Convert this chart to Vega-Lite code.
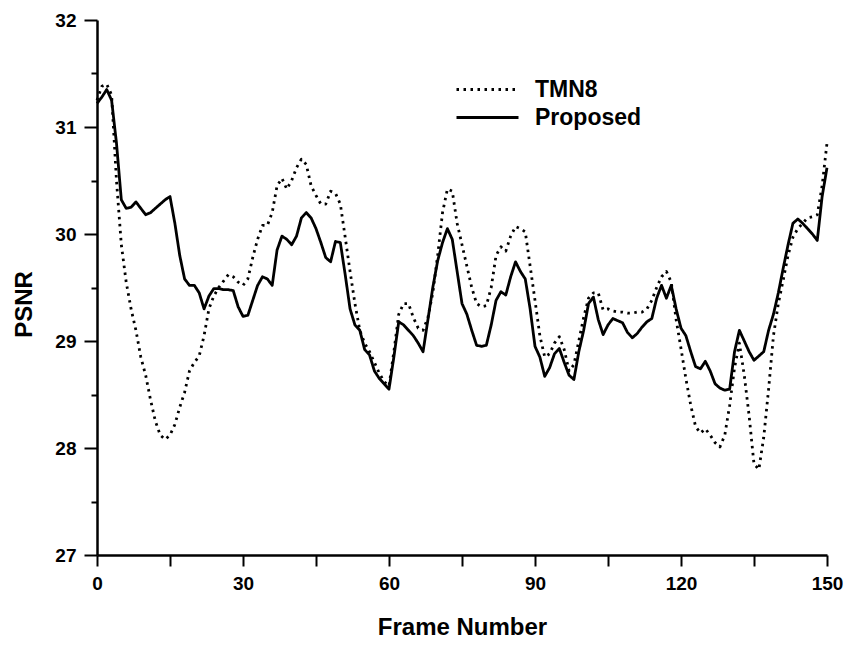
{
  "$schema": "https://vega.github.io/schema/vega-lite/v6.json",
  "width": 730,
  "height": 535,
  "autosize": {"type": "none"},
  "padding": {"left": 97, "top": 20, "right": 17, "bottom": 91},
  "background": "white",
  "config": {
    "font": "Liberation Sans",
    "view": {"stroke": null},
    "axis": {
      "domainColor": "black", "domainWidth": 2.5, "tickColor": "black", "tickWidth": 2,
      "labelColor": "black", "titleColor": "black", "labelFont": "Liberation Sans",
      "titleFont": "Liberation Sans", "labelFontSize": 19, "labelFontWeight": "bold",
      "titleFontSize": 24, "titleFontWeight": "bold", "grid": false
    }
  },
  "data": {"values": [
    {"f":0,"P":31.22,"T":31.25},{"f":1,"P":31.28,"T":31.38},{"f":2,"P":31.35,"T":31.4},{"f":3,"P":31.25,"T":31.3},
    {"f":4,"P":30.85,"T":30.5},{"f":5,"P":30.32,"T":29.9},{"f":6,"P":30.24,"T":29.55},{"f":7,"P":30.25,"T":29.3},
    {"f":8,"P":30.3,"T":29.1},{"f":9,"P":30.24,"T":28.85},{"f":10,"P":30.18,"T":28.68},{"f":11,"P":30.2,"T":28.45},
    {"f":12,"P":30.24,"T":28.25},{"f":13,"P":30.28,"T":28.12},{"f":14,"P":30.32,"T":28.08},{"f":15,"P":30.35,"T":28.12},
    {"f":16,"P":30.1,"T":28.22},{"f":17,"P":29.8,"T":28.38},{"f":18,"P":29.58,"T":28.52},{"f":19,"P":29.52,"T":28.72},
    {"f":20,"P":29.52,"T":28.8},{"f":21,"P":29.45,"T":28.86},{"f":22,"P":29.3,"T":29.05},{"f":23,"P":29.42,"T":29.3},
    {"f":24,"P":29.49,"T":29.42},{"f":25,"P":29.49,"T":29.5},{"f":26,"P":29.48,"T":29.56},{"f":27,"P":29.48,"T":29.62},
    {"f":28,"P":29.47,"T":29.6},{"f":29,"P":29.32,"T":29.55},{"f":30,"P":29.23,"T":29.52},{"f":31,"P":29.24,"T":29.58},
    {"f":32,"P":29.38,"T":29.78},{"f":33,"P":29.52,"T":29.95},{"f":34,"P":29.6,"T":30.08},{"f":35,"P":29.58,"T":30.08},
    {"f":36,"P":29.52,"T":30.2},{"f":37,"P":29.85,"T":30.45},{"f":38,"P":29.98,"T":30.52},{"f":39,"P":29.95,"T":30.42},
    {"f":40,"P":29.9,"T":30.5},{"f":41,"P":29.98,"T":30.62},{"f":42,"P":30.15,"T":30.7},{"f":43,"P":30.2,"T":30.65},
    {"f":44,"P":30.15,"T":30.45},{"f":45,"P":30.05,"T":30.36},{"f":46,"P":29.92,"T":30.28},{"f":47,"P":29.78,"T":30.28},
    {"f":48,"P":29.74,"T":30.4},{"f":49,"P":29.93,"T":30.38},{"f":50,"P":29.92,"T":30.28},{"f":51,"P":29.62,"T":29.97},
    {"f":52,"P":29.3,"T":29.65},{"f":53,"P":29.15,"T":29.35},{"f":54,"P":29.1,"T":29.1},{"f":55,"P":28.92,"T":28.98},
    {"f":56,"P":28.87,"T":28.9},{"f":57,"P":28.72,"T":28.8},{"f":58,"P":28.65,"T":28.7},{"f":59,"P":28.6,"T":28.62},
    {"f":60,"P":28.55,"T":28.58},{"f":61,"P":28.85,"T":28.9},{"f":62,"P":29.18,"T":29.25},{"f":63,"P":29.15,"T":29.35},
    {"f":64,"P":29.1,"T":29.35},{"f":65,"P":29.05,"T":29.22},{"f":66,"P":28.98,"T":29.12},{"f":67,"P":28.9,"T":29.1},
    {"f":68,"P":29.2,"T":29.22},{"f":69,"P":29.5,"T":29.45},{"f":70,"P":29.75,"T":29.8},{"f":71,"P":29.92,"T":30.2},
    {"f":72,"P":30.05,"T":30.42},{"f":73,"P":29.95,"T":30.4},{"f":74,"P":29.65,"T":30.1},{"f":75,"P":29.35,"T":29.9},
    {"f":76,"P":29.25,"T":29.7},{"f":77,"P":29.1,"T":29.5},{"f":78,"P":28.96,"T":29.35},{"f":79,"P":28.95,"T":29.32},
    {"f":80,"P":28.96,"T":29.33},{"f":81,"P":29.15,"T":29.5},{"f":82,"P":29.38,"T":29.8},{"f":83,"P":29.46,"T":29.88},
    {"f":84,"P":29.43,"T":29.84},{"f":85,"P":29.6,"T":29.98},{"f":86,"P":29.74,"T":30.07},{"f":87,"P":29.65,"T":30.05},
    {"f":88,"P":29.58,"T":30.02},{"f":89,"P":29.3,"T":29.7},{"f":90,"P":28.95,"T":29.38},{"f":91,"P":28.85,"T":29.05},
    {"f":92,"P":28.67,"T":28.85},{"f":93,"P":28.75,"T":28.88},{"f":94,"P":28.88,"T":28.98},{"f":95,"P":28.93,"T":29.04},
    {"f":96,"P":28.8,"T":28.92},{"f":97,"P":28.68,"T":28.72},{"f":98,"P":28.64,"T":28.78},{"f":99,"P":28.9,"T":29.0},
    {"f":100,"P":29.1,"T":29.22},{"f":101,"P":29.35,"T":29.4},{"f":102,"P":29.41,"T":29.45},{"f":103,"P":29.2,"T":29.45},
    {"f":104,"P":29.06,"T":29.29},{"f":105,"P":29.15,"T":29.3},{"f":106,"P":29.21,"T":29.28},{"f":107,"P":29.19,"T":29.27},
    {"f":108,"P":29.17,"T":29.27},{"f":109,"P":29.08,"T":29.26},{"f":110,"P":29.03,"T":29.26},{"f":111,"P":29.07,"T":29.27},
    {"f":112,"P":29.13,"T":29.27},{"f":113,"P":29.18,"T":29.3},{"f":114,"P":29.21,"T":29.38},{"f":115,"P":29.4,"T":29.5},
    {"f":116,"P":29.52,"T":29.6},{"f":117,"P":29.4,"T":29.65},{"f":118,"P":29.52,"T":29.55},{"f":119,"P":29.3,"T":29.2},
    {"f":120,"P":29.12,"T":28.93},{"f":121,"P":29.05,"T":28.65},{"f":122,"P":28.9,"T":28.4},{"f":123,"P":28.76,"T":28.2},
    {"f":124,"P":28.74,"T":28.14},{"f":125,"P":28.81,"T":28.18},{"f":126,"P":28.72,"T":28.12},{"f":127,"P":28.6,"T":28.05},
    {"f":128,"P":28.56,"T":28.01},{"f":129,"P":28.54,"T":28.12},{"f":130,"P":28.55,"T":28.4},{"f":131,"P":28.9,"T":28.75},
    {"f":132,"P":29.1,"T":28.98},{"f":133,"P":29.0,"T":28.68},{"f":134,"P":28.9,"T":28.3},{"f":135,"P":28.82,"T":27.85},
    {"f":136,"P":28.86,"T":27.8},{"f":137,"P":28.9,"T":28.1},{"f":138,"P":29.1,"T":28.55},{"f":139,"P":29.25,"T":29.05},
    {"f":140,"P":29.45,"T":29.35},{"f":141,"P":29.68,"T":29.57},{"f":142,"P":29.9,"T":29.8},{"f":143,"P":30.1,"T":29.97},
    {"f":144,"P":30.14,"T":30.05},{"f":145,"P":30.1,"T":30.1},{"f":146,"P":30.05,"T":30.15},{"f":147,"P":30.0,"T":30.16},
    {"f":148,"P":29.94,"T":30.18},{"f":149,"P":30.35,"T":30.45},{"f":150,"P":30.62,"T":30.85}
  ]},
  "transform": [
    {"fold": ["T", "P"], "as": ["key", "psnr"]},
    {"lookup": "key", "from": {"data": {"values": [{"key": "T", "series": "TMN8", "o": 0}, {"key": "P", "series": "Proposed", "o": 1}]}, "key": "key", "fields": ["series", "o"]}}
  ],
  "mark": {"type": "line", "stroke": "black", "strokeWidth": 2.8, "strokeCap": "butt", "strokeJoin": "round"},
  "encoding": {
    "x": {
      "field": "f", "type": "quantitative", "title": "Frame Number",
      "scale": {"domain": [0, 150], "nice": false, "zero": false},
      "axis": {
        "values": [0, 15, 30, 45, 60, 75, 90, 105, 120, 135, 150],
        "labelExpr": "datum.value % 30 == 0 ? datum.label : ''",
        "tickSize": 11, "labelPadding": 8, "titlePadding": 22,
        "labelFlush": false, "labelOverlap": false
      }
    },
    "y": {
      "field": "psnr", "type": "quantitative", "title": "PSNR",
      "scale": {"domain": [27, 32], "nice": false, "zero": false},
      "axis": {
        "values": [27, 27.5, 28, 28.5, 29, 29.5, 30, 30.5, 31, 31.5, 32],
        "labelExpr": "datum.value % 1 == 0 ? format(datum.value, 'd') : ''",
        "tickSize": {"condition": {"test": "datum.value % 1 == 0", "value": 13}, "value": 6},
        "labelPadding": 8, "titlePadding": 18, "titleY": 284,
        "labelFlush": false, "labelOverlap": false
      }
    },
    "strokeDash": {
      "field": "series", "type": "nominal",
      "scale": {"domain": ["TMN8", "Proposed"], "range": [[2.5, 4.5], [1, 0]]},
      "legend": {
        "title": null, "orient": "none", "legendX": 405, "legendY": 58, "padding": 0,
        "symbolType": "M-11.4,0H1", "symbolSize": 100, "symbolStrokeColor": "black",
        "symbolFillColor": "transparent", "symbolStrokeWidth": 2.8,
        "labelFontSize": 23, "labelFontWeight": "bold", "labelColor": "black",
        "labelFont": "Liberation Sans", "labelOffset": 10, "rowPadding": 4
      }
    },
    "order": {"field": "o", "type": "quantitative"}
  }
}
